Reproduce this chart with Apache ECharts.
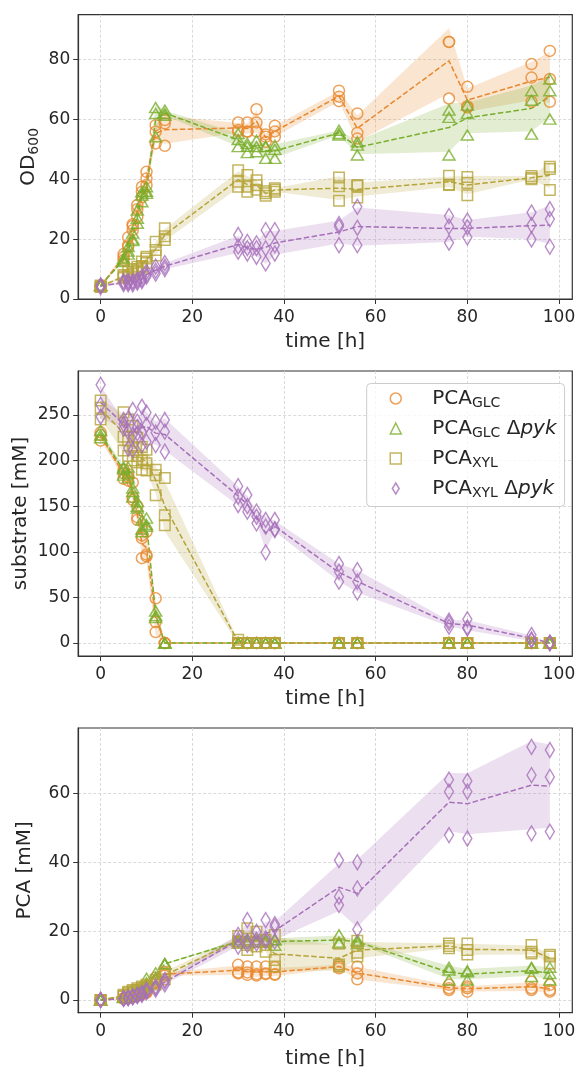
<!DOCTYPE html>
<html>
<head>
<meta charset="utf-8">
<script src="https://cdn.jsdelivr.net/npm/echarts@6/dist/echarts.min.js"></script>
<style>
html,body{margin:0;padding:0;background:#fff}
#chart{width:577px;height:1067px}
</style>
</head>
<body>
<div id="chart"></div>
<script>
var times=[0,5,6,7,8,9,10,12,14,30,32,34,36,38,52,56,76,80,94,98];
var timeTicks=[0,20,40,60,80,100];
var odTicks=[0,20,40,60,80];
var subTicks=[0,50,100,150,200,250];
var pcaTicks=[0,20,40,60];

// OD600, three replicates per time point
var odGlc=[[4.5,4.5,4.2],[15,14,13],[20.6,18,17.5],[25,24.4,23],[31.4,27.5,30],[37.5,35.8,34],[42.5,40.3,38],[58.1,55.9,52],[59.8,58.7,51.2],
 [59,56.5,56],[59,55.9,56],[63.4,59,56],[54.2,52.5,55],[57.9,54.2,56],[69.6,67.6,66.1],[62,55.5,53.6],[85.9,85.9,67],[70.9,64.4,64],[78.5,74,65.9],[82.9,73.5,65.9]];
var odGlcPyk=[[4.5,4.5,4.5],[13.6,13,12.5],[17.5,16,15],[22,20,19.5],[29.7,25.3,27],[35.8,34.7,32.5],[37.5,35.3,36],[64,62,54.2],[63.1,61.4,62],
 [55.3,53.3,50.9],[52,48.9,51],[53,50.9,49.2],[50.9,47,51],[51.4,47,50],[56.4,54.8,55.3],[52.5,51.4,48.1],[63.1,60.7,48.1],[64.8,62,54.8],[69.6,66.4,55.1],[73.5,69.6,60.1]];
var odXyl=[[4.5,4,4.2],[8,7.5,7],[9.1,8,7.5],[9.9,9,8.5],[10.8,10,9.5],[12.5,11,10.5],[14.1,13.5,12],[19.1,16.4,14.5],[23.6,21,19.7],
 [43,39.2,37.5],[41.4,37.5,35.8],[39.7,38,36.5],[35.3,34.5,36],[37,35.8,36.5],[40.6,37.7,32.8],[38.1,37.8,33.9],[41.2,38.1,38.3],[40.8,38.8,34.7],[41.1,40,40.4],[43.4,44.2,36.4]];
var odXylPyk=[[4.5,4,4.5],[6,5,5.5],[5.5,6,5],[4.9,6,5.5],[6.6,6,5.5],[7.5,6.5,6],[9.1,8,7.5],[10.8,9.5,8.5],[12,10.8,10],
 [21.4,17.5,15.8],[19.1,15.2,17],[18.6,14.1,17],[23,16.9,11.9],[23,15.2,18],[25,24.2,18],[30.8,23.8,18],[27.7,24.2,18.8],[26.2,20.6,24],[28.9,24.7,19.9],[30,26.7,17.5]];

// substrate [mM]
var subGlc=[[231,228,222],[190,186,180],[185,182,178],[176,160,157],[150,138,135],[118,115,93],[122,97,95],[49,23,12],[0,0,0],
 [0,0,0],[0,0,0],[0,0,0],[0,0,0],[0,0,0],[0,0,0],[0,0,0],[0,0,0],[0,0,0],[0,0,0],[0,0,0]];
var subGlcPyk=[[233,228,225],[193,191,184],[193,186,181],[170,166,160],[155,150,148],[135,125,122],[137,130,128],[35,30,28],[0,0,0],
 [0,0,0],[0,0,0],[0,0,0],[0,0,0],[0,0,0],[0,0,0],[0,0,0],[0,0,0],[0,0,0],[0,0,0],[0,0,0]];
var subXyl=[[266,258,245],[253,226,211],[245,222,205],[238,215,200],[225,205,198],[215,200,190],[212,197,189],[190,184,162],[181,140,129],
 [3.5,0,0],[0,0,0],[0,0,0],[0,0,0],[0,0,0],[0,0,0],[0,0,0],[0,0,0],[0,0,0],[0,0,0],[0,0,0]];
var subXylPyk=[[283,261,248],[244.5,235,240],[246,231.7,213.5],[255.5,228,211.6],[242.7,237,230],[259,231.7,217],[252.6,239,220.8],[242.7,230.6,217],[244.5,231.7,209.8],
 [172,160.5,151.3],[162.3,144,150],[144,131.2,138.5],[134.9,127.6,99.4],[134.9,123.9,125],[86.6,78.2,67.3],[80,67.3,55.6],[24.5,17.9,22],[26,16,17],[8.8,4,3],[0.5,0,0]];

// PCA [mM]
var pcaGlc=[[0,0,0],[0.5,0.4,0.3],[0.8,0.6,0.5],[1,0.9,0.8],[1.5,1.3,1.2],[2,1.8,1.6],[2.5,2.3,2.1],[6.5,5.5,5],[8,7.5,7],
 [10.2,7.7,8],[9.7,7.3,8],[9.7,7.1,7.5],[9.7,7.7,7.5],[9.5,7.3,7.5],[10.2,9.7,9.2],[9.7,7.7,6],[4.4,3.4,2.9],[3.9,3.4,2.4],[5.3,3.4,2.9],[4.4,2.9,2.4]];
var pcaGlcPyk=[[0,0,0],[1,0.8,0.7],[1.5,1.2,1],[2,1.8,1.5],[3,2.5,2.2],[4,3.5,3],[6.3,5,4.5],[7.9,6.5,6],[10.6,10.5,10.4],
 [17,17.5,16.5],[17.5,17,16.5],[17.5,17,16.8],[17.5,17,16.8],[15.9,17.5,17.5],[18.9,16.8,16.5],[17.4,17,16.4],[9.5,8.7,5.8],[8.2,8.5,5.8],[9.2,9.5,6.8],[7.7,9.5,5.8]];
var pcaXyl=[[0,0,0],[1.5,1.2,1],[2.4,2,1.6],[2.9,2.5,2],[3.4,3,2.5],[3.9,3.5,3],[4.4,4,3.5],[5.8,5,4.5],[8.2,7.3,6],
 [18.6,16.6,17],[20.8,14.5,16],[19.8,15.5,17],[17.4,14,16],[11.6,9.7,18.9],[16.3,9.7,10.3],[17.2,13.7,12.6],[16.4,15,15.7],[16.4,14.5,13.2],[16,14,13.5],[13.1,10.6,12.6]];
var pcaXylPyk=[[0,0,0],[0.5,0.4,0.3],[0.7,0.6,0.5],[1,0.9,0.8],[1.5,1.3,1.1],[2,1.8,1.5],[3,2.6,2.2],[3.9,3.5,3],[5.8,5.3,4.5],
 [18.9,15.5,17.5],[23.2,17,16],[19.8,16.4,17.5],[23.2,17.9,17],[21.3,17,22],[40.6,30,27.6],[40,32.4,20.5],[64,60.5,47.9],[63.6,60.5,46.9],[73.5,65.3,48.4],[72.6,64.8,48.9]];

var names=['GLC','GLCpyk','XYL','XYLpyk'];
var colors=['#e8892f','#79ae2c','#b5a43a','#a770ba'];
var symbols=['circle','triangle','rect','diamond'];
var symSizes=[11,[12,10],10.5,[9,15]];
var legendIcons=['circle','triangle','rect','path://M4,0L8,6.5L4,13L0,6.5Z'];
var panels=[
  {reps:[odGlc,odGlcPyk,odXyl,odXylPyk],min:0,max:95,ticks:odTicks,name:'OD{s|600}',gap:37,xgap:33},
  {reps:[subGlc,subGlcPyk,subXyl,subXylPyk],min:-14.2,max:298.2,ticks:subTicks,name:'substrate [mM]',gap:45,xgap:33},
  {reps:[pcaGlc,pcaGlcPyk,pcaXyl,pcaXylPyk],min:-3.7,max:79,ticks:pcaTicks,name:'PCA [mM]',gap:41.5,xgap:36}
];
var legendText={
  GLC:'{g| }{n|PCA}{s|GLC}',
  GLCpyk:'{g| }{n|PCA}{s|GLC}{n| Δ}{i|pyk}',
  XYL:'{g| }{n|PCA}{s|XYL}',
  XYLpyk:'{g| }{n|PCA}{s|XYL}{n| Δ}{i|pyk}'
};

function stats(r){
  var m=(r[0]+r[1]+r[2])/3;
  var v=((r[0]-m)*(r[0]-m)+(r[1]-m)*(r[1]-m)+(r[2]-m)*(r[2]-m))/2;
  return [m,Math.sqrt(v)];
}
function rgba(hex,a){
  var n=parseInt(hex.slice(1),16);
  return 'rgba('+(n>>16)+','+((n>>8)&255)+','+(n&255)+','+a+')';
}
// shaded mean +- sd band as one polygon, through the axis scales
function bandRenderer(rows,fill){
  return function(params,api){
    if(params.dataIndex!==0) return;
    var up=[],dn=[];
    rows.forEach(function(d){
      up.push(api.coord([d[0],d[2]]));
      dn.unshift(api.coord([d[0],d[1]]));
    });
    return {type:'polygon',shape:{points:up.concat(dn)},style:{fill:fill},silent:true};
  };
}

var font='DejaVu Sans';
var ink='#262626';
var gridTops=[14.7,371,728];
var gridHeights=[284.3,285,284.7];
var grids=[],xAxes=[],yAxes=[];
var scatters=[],lines=[],bands=[];

panels.forEach(function(p,pi){
  grids.push({left:78.2,width:494.1,top:gridTops[pi],height:gridHeights[pi],show:true,
    borderColor:'#333',borderWidth:1.2,backgroundColor:'transparent',outerBoundsMode:'none'});
  xAxes.push({type:'value',gridIndex:pi,min:-4.9,max:102.9,
    name:'time [h]',nameLocation:'middle',nameGap:p.xgap,nameMoveOverlap:false,
    nameTextStyle:{fontSize:20,color:ink,fontFamily:font},
    axisLine:{show:true,onZero:false,lineStyle:{color:'#333',width:1.2}},
    axisTick:{show:true,length:5,customValues:timeTicks,lineStyle:{color:'#333',width:1}},
    axisLabel:{customValues:timeTicks,fontSize:17,color:ink,fontFamily:font,margin:10},
    splitLine:{show:true,lineStyle:{color:'#d0d0d0',type:[3,2],width:0.8}}});
  yAxes.push({type:'value',gridIndex:pi,min:p.min,max:p.max,
    name:p.name,nameLocation:'middle',nameGap:p.gap,nameRotate:90,nameMoveOverlap:false,
    nameTextStyle:{fontSize:20,color:ink,fontFamily:font,lineHeight:24,
      rich:{s:{fontSize:14,fontFamily:font,color:ink,lineHeight:14,verticalAlign:'bottom'}}},
    axisLine:{show:true,onZero:false,lineStyle:{color:'#333',width:1.2}},
    axisTick:{show:true,length:5,customValues:p.ticks,lineStyle:{color:'#333',width:1}},
    axisLabel:{customValues:p.ticks,fontSize:17,color:ink,fontFamily:font,margin:8},
    splitLine:{show:true,lineStyle:{color:'#d0d0d0',type:[3,2],width:0.8}}});

  p.reps.forEach(function(reps,k){
    var pts=[],mean=[],band=[];
    times.forEach(function(t,i){
      reps[i].forEach(function(v){pts.push([t,v]);});
      var s=stats(reps[i]);
      mean.push([t,s[0]]);
      band.push([t,s[0]-s[1],s[0]+s[1]]);
    });
    scatters.push({name:names[k],type:'scatter',xAxisIndex:pi,yAxisIndex:pi,z:4,
      symbol:symbols[k],symbolSize:symSizes[k],
      itemStyle:{color:'rgba(255,255,255,0)',borderColor:colors[k],borderWidth:1.5},
      emphasis:{disabled:true},data:pts});
    lines.push({name:names[k],type:'line',xAxisIndex:pi,yAxisIndex:pi,z:3,
      showSymbol:false,symbol:'none',
      lineStyle:{color:colors[k],width:1.5,type:[5.5,2.4]},
      emphasis:{disabled:true},data:mean});
    bands.push({name:names[k],type:'custom',xAxisIndex:pi,yAxisIndex:pi,z:2,silent:true,clip:true,
      encode:{x:0,y:[1,2]},renderItem:bandRenderer(band,rgba(colors[k],0.22)),data:band});
  });
});

var mychart=echarts.init(document.getElementById('chart'));
var option={
  animation:false,
  textStyle:{fontFamily:font},
  grid:grids,
  xAxis:xAxes,
  yAxis:yAxes,
  legend:{
    data:names.map(function(n,k){
      return {name:n,icon:legendIcons[k],
        itemStyle:{color:'rgba(255,255,255,0)',borderColor:colors[k],borderWidth:1.5}};
    }),
    orient:'vertical',left:366.7,top:383.5,
    itemWidth:11,itemHeight:11,itemGap:8,symbolKeepAspect:true,
    padding:[5,8,6,22.8],
    backgroundColor:'rgba(255,255,255,0.8)',borderColor:'#cccccc',borderWidth:1,borderRadius:4,
    formatter:function(n){return legendText[n];},
    textStyle:{color:ink,fontFamily:font,fontSize:20,
      rich:{
        g:{width:26,fontSize:20,fontFamily:font},
        n:{fontSize:20,fontFamily:font,color:ink,lineHeight:24},
        s:{fontSize:14,fontFamily:font,color:ink,lineHeight:14,verticalAlign:'bottom'},
        i:{fontSize:20,fontFamily:font,color:ink,fontStyle:'italic',lineHeight:24}
      }}
  },
  series:scatters.concat(lines,bands)
};
mychart.setOption(option);
</script>
</body>
</html>
